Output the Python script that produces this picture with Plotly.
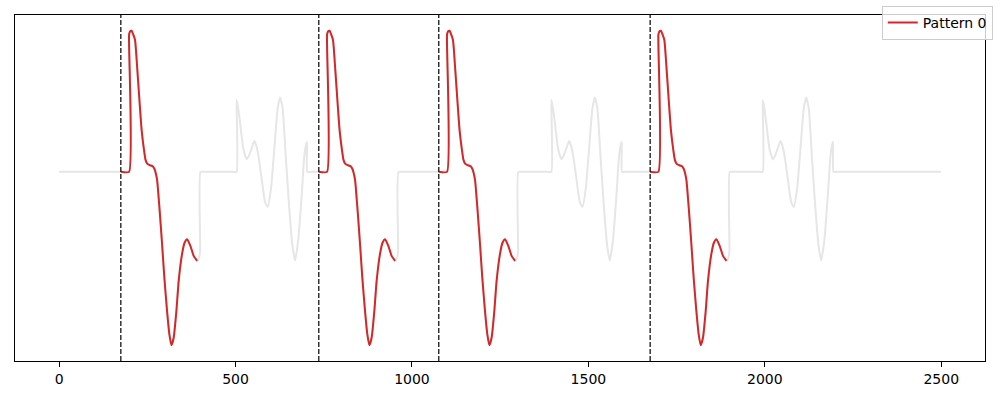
import plotly.graph_objects as go

# ---- data ----
series_length = 2500
pattern_starts = [175, 736, 1076, 1675]
wavelet_starts = [503, 1395, 1994]
highlight_length = 217

# motif shape (offset from pattern start, value)
pattern_offsets = [0, 23.3, 23.3, 25.5, 28.0, 30.6, 34.0, 40.2, 46.8, 53.3, 59.0, 65.8, 70.0,
                   75.2, 84.5, 90.0, 95.0, 99.0, 103.0, 110.0, 116.8, 123.3, 131.0, 137.5,
                   143.2, 149.7, 157.4, 163.9, 173.5, 180.9, 187.7, 197.0, 206.4, 216.2,
                   221.9, 224.7, 225.6, 235.0]
pattern_values = [0, 0, 0.975, 0.995, 1.003, 1.004, 0.985, 0.938, 0.724, 0.488, 0.295, 0.152, 0.085,
                  0.057, 0.045, 0.040, 0.022, -0.010, -0.062, -0.276, -0.512, -0.753, -0.991, -1.155,
                  -1.234, -1.181, -0.991, -0.776, -0.584, -0.503, -0.479, -0.526, -0.598, -0.634,
                  -0.610, -0.562, 0, 0]

# secondary (non-matching) wavelet shape
wavelet_offsets = [-10.0, 0, 0, 4.0, 9.6, 19.0, 28.4, 35.0, 40.9, 50.2, 56.0, 61.6, 71.0, 80.6, 88.0,
                   97.6, 107.0, 116.4, 123.2, 130.5, 139.1, 148.7, 158.1, 165.8, 175.1, 184.5,
                   192.2, 198.7, 199.6, 200.5, 210.0]
wavelet_values = [0, 0, 0.511, 0.46, 0.357, 0.166, 0.09, 0.115, 0.154, 0.219, 0.185, 0.119, -0.048,
                  -0.214, -0.25, -0.119, 0.166, 0.452, 0.529, 0.452, 0.119, -0.239, -0.524,
                  -0.631, -0.476, -0.167, 0.119, 0.214, 0.19, 0, 0]

# ---- build the full series from the segments ----
events = [(s, pattern_offsets, pattern_values) for s in pattern_starts] + \
         [(s, wavelet_offsets, wavelet_values) for s in wavelet_starts]
events.sort(key=lambda e: e[0])
gx, gy = [0], [0]
for s, offs, vals in events:
    gx += [s + o for o in offs]
    gy += list(vals)
gx.append(series_length - 1)
gy.append(0)

fig = go.Figure()
fig.add_trace(go.Scatter(x=gx, y=gy, mode="lines",
                         line=dict(color="#e6e6e6", width=2, shape="spline", smoothing=0.5),
                         showlegend=False, hoverinfo="skip"))

for i, s in enumerate(pattern_starts):
    px = [s + o for o, v in zip(pattern_offsets, pattern_values) if o <= highlight_length]
    py = [v for o, v in zip(pattern_offsets, pattern_values) if o <= highlight_length]
    fig.add_trace(go.Scatter(x=px, y=py, mode="lines",
                             line=dict(color="#d62728", width=2, shape="spline", smoothing=0.5),
                             name="Pattern 0", legendgroup="p0", showlegend=(i == 0)))

for s in pattern_starts:
    fig.add_vline(x=s, line=dict(color="black", width=1.2, dash="5px,2px"))

xmin, xmax = 0, series_length - 1
xpad = (xmax - xmin) * 0.05
ymin, ymax = min(gy), max(gy)
ypad = (ymax - ymin) * 0.05

fig.update_layout(
    width=1000, height=400,
    margin=dict(l=15, r=15, t=15, b=39, autoexpand=False),
    paper_bgcolor="white", plot_bgcolor="white",
    font=dict(family="DejaVu Sans", size=14, color="black"),
    legend=dict(x=1.008, y=1.026, xanchor="right", yanchor="top", itemwidth=30,
                bgcolor="rgba(255,255,255,0.8)", bordercolor="#cccccc", borderwidth=1,
                font=dict(size=14)),
)
fig.update_xaxes(range=[xmin - xpad, xmax + xpad], tickvals=[0, 500, 1000, 1500, 2000, 2500],
                 showgrid=False, zeroline=False, showline=True, linecolor="black", linewidth=1,
                 mirror=True, ticks="outside", ticklen=5, tickcolor="black",
                 tickfont=dict(size=14))
fig.update_yaxes(range=[ymin - ypad, ymax + ypad], showticklabels=False, ticks="",
                 showgrid=False, zeroline=False, showline=True, linecolor="black", linewidth=1,
                 mirror=True)

fig.write_html("out.html", config={"displayModeBar": False},
               post_script="document.body.style.margin='0';document.body.style.overflow='hidden';")
